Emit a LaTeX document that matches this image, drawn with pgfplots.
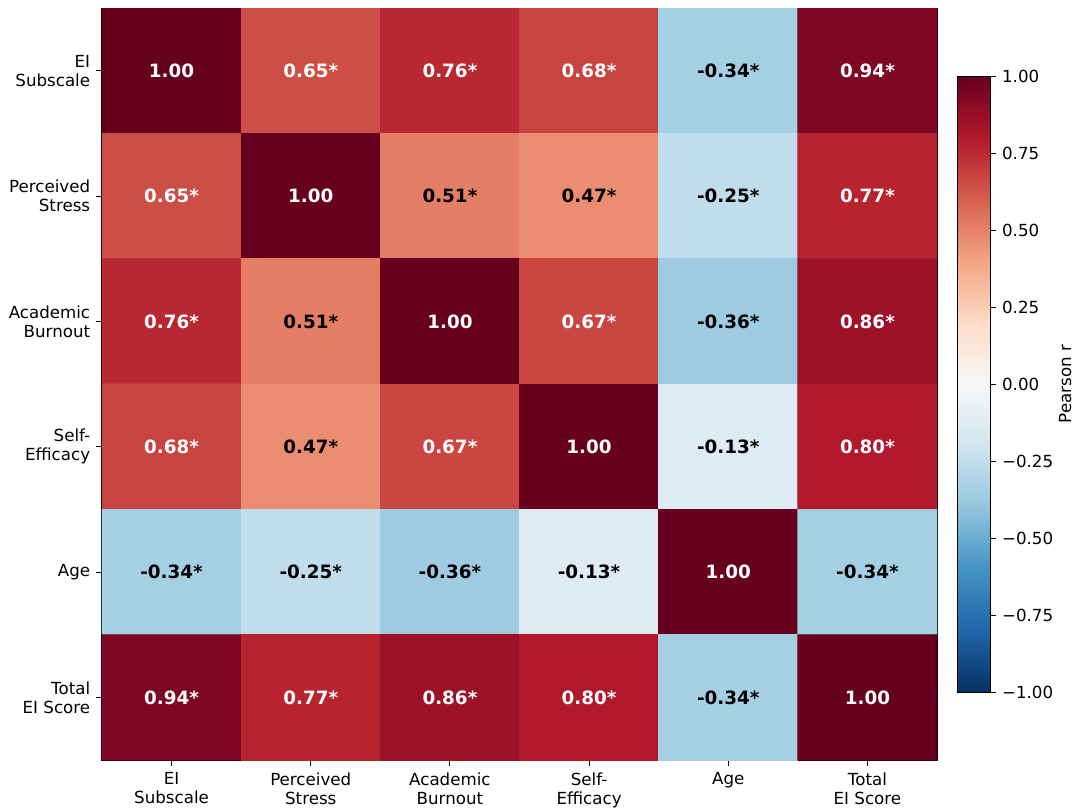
\documentclass[border=0pt]{standalone}
\usepackage{pgfplots}
\pgfplotsset{compat=1.18}
\usepackage{fontspec}
\setmainfont{DejaVu Sans}
\pgfplotsset{
  colormap={rdbur}{rgb255=(5,48,97) rgb255=(33,102,172) rgb255=(67,147,195) rgb255=(146,197,222) rgb255=(209,229,240) rgb255=(247,247,247) rgb255=(253,219,199) rgb255=(244,165,130) rgb255=(214,96,77) rgb255=(178,24,43) rgb255=(103,0,31)}
}
\pgfplotstableread{
x y v
0 0 1.00
1 0 0.65
2 0 0.76
3 0 0.68
4 0 -0.34
5 0 0.94
0 1 0.65
1 1 1.00
2 1 0.51
3 1 0.47
4 1 -0.25
5 1 0.77
0 2 0.76
1 2 0.51
2 2 1.00
3 2 0.67
4 2 -0.36
5 2 0.86
0 3 0.68
1 3 0.47
2 3 0.67
3 3 1.00
4 3 -0.13
5 3 0.80
0 4 -0.34
1 4 -0.25
2 4 -0.36
3 4 -0.13
4 4 1.00
5 4 -0.34
0 5 0.94
1 5 0.77
2 5 0.86
3 5 0.80
4 5 -0.34
5 5 1.00
}\corrdata
\pgfplotstableread{
x y lab
0 0 1.00
1 0 0.65*
2 0 0.76*
3 0 0.68*
5 0 0.94*
0 1 0.65*
1 1 1.00
5 1 0.77*
0 2 0.76*
2 2 1.00
3 2 0.67*
5 2 0.86*
0 3 0.68*
2 3 0.67*
3 3 1.00
5 3 0.80*
4 4 1.00
0 5 0.94*
1 5 0.77*
2 5 0.86*
3 5 0.80*
5 5 1.00
}\whitelab
\pgfplotstableread{
x y lab
4 0 -0.34*
2 1 0.51*
3 1 0.47*
4 1 -0.25*
1 2 0.51*
4 2 -0.36*
1 3 0.47*
4 3 -0.13*
0 4 -0.34*
1 4 -0.25*
2 4 -0.36*
3 4 -0.13*
5 4 -0.34*
4 5 -0.34*
}\blacklab
\begin{document}
\begin{tikzpicture}
\useasboundingbox (-61.2pt,-28.8pt) rectangle (583.8pt,456pt);
\begin{axis}[
  at={(0,0)}, anchor=south west,
  scale only axis,
  width=501pt, height=451.2pt,
  xmin=-0.5, xmax=5.5, ymin=-0.5, ymax=5.5,
  y dir=reverse,
  axis line style={black, line width=0.6pt},
  xtick={0,...,5}, ytick={0,...,5},
  xticklabels={{EI\\Subscale},{Perceived\\Stress},{Academic\\Burnout},{Self-\\Efficacy},{Age},{Total\\EI Score}},
  yticklabels={{EI\\Subscale},{Perceived\\Stress},{Academic\\Burnout},{Self-\\Efficacy},{Age},{Total\\EI Score}},
  xticklabel style={align=center, font=\fontsize{10}{11.4}\selectfont, yshift=-0.5pt},
  yticklabel style={align=right, font=\fontsize{10}{11.4}\selectfont},
  tick align=outside, xtick pos=bottom, ytick pos=left,
  major tick length=3.6pt,
  tick style={black, line width=0.5pt},
  colormap name=rdbur,
  point meta min=-1, point meta max=1,
  colorbar sampled,
  colorbar style={
    at={(parent axis.east)}, anchor=west, xshift=3.6pt,
    width=19.8pt, height=369.6pt,
    samples=201,
    ytick={-1,-0.75,-0.5,-0.25,0,0.25,0.5,0.75,1},
    yticklabels={−1.00,−0.75,−0.50,−0.25,0.00,0.25,0.50,0.75,1.00},
    yticklabel style={font=\fontsize{10}{12}\selectfont},
    ytick pos=right, yticklabel pos=right,
    tick align=outside, major tick length=3.6pt,
    tick style={black, line width=0.5pt},
    axis line style={black, line width=0.5pt},
    ylabel={Pearson r},
    every axis y label/.style={at={(rel axis cs:1,0.5)}, rotate=90, anchor=center, yshift=-45pt, font=\fontsize{10}{12}\selectfont},
  },
]
\addplot[matrix plot*, mesh/cols=6, point meta=explicit] table[x=x, y=y, meta=v] {\corrdata};
\addplot[only marks, mark=none, nodes near coords, point meta=explicit symbolic,
  nodes near coords style={anchor=center, text=white, font=\fontsize{11}{13}\selectfont\bfseries}]
  table[x=x, y=y, meta=lab] {\whitelab};
\addplot[only marks, mark=none, nodes near coords, point meta=explicit symbolic,
  nodes near coords style={anchor=center, text=black, font=\fontsize{11}{13}\selectfont\bfseries}]
  table[x=x, y=y, meta=lab] {\blacklab};
\end{axis}
\end{tikzpicture}
\end{document}
